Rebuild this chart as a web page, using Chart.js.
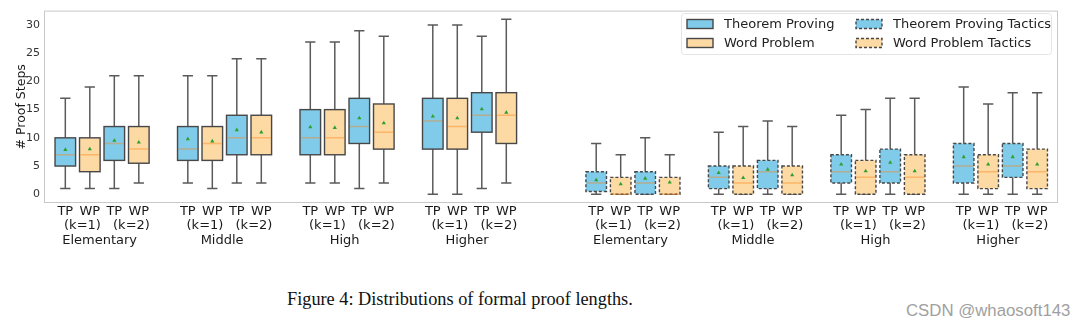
<!DOCTYPE html>
<html>
<head>
<meta charset="utf-8">
<script src="https://cdn.jsdelivr.net/npm/chart.js@4.4.1/dist/chart.umd.min.js"></script>
<style>
  html, body { margin: 0; padding: 0; background: #fff; }
  body { width: 1080px; height: 327px; position: relative; overflow: hidden; }
  #wrap { position: absolute; left: 0; top: 0; width: 1080px; height: 260px; }
  #caption { position: absolute; left: 287px; top: 289px; font-family: 'Liberation Serif', serif; font-size: 18.3px; color: #111; white-space: nowrap; }
  #mark { position: absolute; left: 906px; top: 301px; font-family: 'Liberation Sans', sans-serif; font-size: 16.8px; color: #a0a0a0; white-space: nowrap; }
</style>
</head>
<body>
<div id="wrap"><canvas id="chartCanvas" width="1080" height="260"></canvas></div>
<div id="caption">Figure 4: Distributions of formal proof lengths.</div>
<div id="mark">CSDN @whaosoft143</div>
<script>
// Categories and tick labels
const groupNames = ['Elementary', 'Middle', 'High', 'Higher'];
const pairLabels = ['(k=1)', '(k=2)'];
const boxNames = ['TP', 'WP', 'TP', 'WP'];
const yTickValues = [0, 5, 10, 15, 20, 25, 30];

// Box stats, order: Elementary k=1, k=2, Middle k=1, k=2, High k=1, k=2, Higher k=1, k=2
const tpLow    = [1, 1, 2, 2, 2, 1, 0, 1];
const tpQ1     = [5, 6, 6, 7, 7, 9, 8, 11];
const tpMedian = [7, 9, 8, 10, 10, 12, 13, 14];
const tpQ3     = [10, 12, 12, 14, 15, 17, 17, 18];
const tpHigh   = [17, 21, 21, 24, 27, 29, 30, 28];
const tpMean   = [7.9, 9.5, 9.8, 11.4, 11.9, 13.5, 13.8, 15.1];

const wpLow    = [1, 2, 1, 2, 2, 2, 0, 2];
const wpQ1     = [4, 5.5, 6, 7, 7, 8, 8, 9];
const wpMedian = [7, 8, 9, 10, 10, 11, 12, 14];
const wpQ3     = [10, 12, 12, 14, 15, 16, 17, 18];
const wpHigh   = [19, 21, 21, 24, 27, 28, 30, 31];
const wpMean   = [8.0, 9.2, 9.4, 11.0, 11.8, 12.6, 13.5, 14.5];

const tptLow    = [0, 0, 0, 0, 0, 0, 0, 0];
const tptQ1     = [0.5, 0, 1, 1, 2, 2, 2, 3];
const tptMedian = [2, 2, 3, 4, 4, 4, 5, 5];
const tptQ3     = [4, 4, 5, 6, 7, 8, 9, 9];
const tptHigh   = [9, 10, 11, 13, 14, 17, 19, 18];
const tptMean   = [2.5, 2.8, 3.8, 4.4, 5.3, 5.6, 6.6, 6.6];

const wptLow    = [0, 0, 0, 0, 0, 0, 0, 0];
const wptQ1     = [0, 0, 0, 0, 0, 0, 1, 1];
const wptMedian = [0, 0, 2, 2, 3, 3, 4, 4];
const wptQ3     = [3, 3, 5, 5, 6, 7, 7, 8];
const wptHigh   = [7, 7, 12, 12, 15, 17, 16, 18];
const wptMean   = [1.8, 2.1, 2.9, 3.4, 4.1, 4.1, 5.3, 5.3];

// Layout on the x axis (in box slots)
const leftGroupStart = [0, 5, 10, 15];
const rightGroupStart = [21.67, 26.67, 31.67, 36.67];
const boxWidth = 0.84;

function positions(starts, offset) {
  const out = [];
  starts.forEach(s => { out.push(s + offset, s + offset + 2); });
  return out;
}

const series = [
  { label: 'Theorem Proving', fill: '#80cbe9', dashed: false, pos: positions(leftGroupStart, 0),
    low: tpLow, q1: tpQ1, med: tpMedian, q3: tpQ3, high: tpHigh, mean: tpMean },
  { label: 'Word Problem', fill: '#fdd9a3', dashed: false, pos: positions(leftGroupStart, 1),
    low: wpLow, q1: wpQ1, med: wpMedian, q3: wpQ3, high: wpHigh, mean: wpMean },
  { label: 'Theorem Proving Tactics', fill: '#80cbe9', dashed: true, pos: positions(rightGroupStart, 0),
    low: tptLow, q1: tptQ1, med: tptMedian, q3: tptQ3, high: tptHigh, mean: tptMean },
  { label: 'Word Problem Tactics', fill: '#fdd9a3', dashed: true, pos: positions(rightGroupStart, 1),
    low: wptLow, q1: wptQ1, med: wptMedian, q3: wptQ3, high: wptHigh, mean: wptMean }
];

// x tick positions + multi-line labels (box names, k labels, group names)
const xTickPos = [];
const xTickLabels = [];
leftGroupStart.concat(rightGroupStart).forEach((s, gi) => {
  const name = groupNames[gi % 4];
  xTickPos.push(s);       xTickLabels.push([boxNames[0]]);
  xTickPos.push(s + 0.7); xTickLabels.push(['', pairLabels[0]]);
  xTickPos.push(s + 1);   xTickLabels.push([boxNames[1]]);
  xTickPos.push(s + 1.4); xTickLabels.push(['', '', name]);
  xTickPos.push(s + 2);   xTickLabels.push([boxNames[2]]);
  xTickPos.push(s + 2.7); xTickLabels.push(['', pairLabels[1]]);
  xTickPos.push(s + 3);   xTickLabels.push([boxNames[3]]);
});

const edgeColor = '#474747';
const whiskerColor = '#5a5a5a';
const medianColor = 'rgba(255, 127, 14, 0.4)';
const dashPattern = [3, 2];

// Boxes, whiskers, caps and medians, drawn under the mean markers
const boxPlotPlugin = {
  id: 'boxPlot',
  beforeDatasetsDraw(chart) {
    const { ctx, chartArea, scales: { x, y } } = chart;
    ctx.save();
    ctx.beginPath();
    ctx.rect(chartArea.left, chartArea.top, chartArea.width, chartArea.height);
    ctx.clip();
    series.forEach(s => {
      s.pos.forEach((p, i) => {
        const left = x.getPixelForValue(p - boxWidth / 2);
        const right = x.getPixelForValue(p + boxWidth / 2);
        const cx = x.getPixelForValue(p);
        const capHalf = (right - left) / 4;
        const yLow = y.getPixelForValue(s.low[i]);
        const yQ1 = y.getPixelForValue(s.q1[i]);
        const yMed = y.getPixelForValue(s.med[i]);
        const yQ3 = y.getPixelForValue(s.q3[i]);
        const yHigh = y.getPixelForValue(s.high[i]);

        // whiskers + caps
        ctx.strokeStyle = whiskerColor;
        ctx.lineWidth = 1.5;
        ctx.setLineDash([]);
        ctx.beginPath();
        ctx.moveTo(cx, yQ3); ctx.lineTo(cx, yHigh);
        ctx.moveTo(cx, yQ1); ctx.lineTo(cx, yLow);
        ctx.moveTo(cx - capHalf, yHigh); ctx.lineTo(cx + capHalf, yHigh);
        ctx.moveTo(cx - capHalf, yLow); ctx.lineTo(cx + capHalf, yLow);
        ctx.stroke();

        // box
        ctx.fillStyle = s.fill;
        ctx.fillRect(left, yQ3, right - left, yQ1 - yQ3);
        ctx.strokeStyle = edgeColor;
        ctx.lineWidth = 1.4;
        ctx.setLineDash(s.dashed ? dashPattern : []);
        ctx.strokeRect(left, yQ3, right - left, yQ1 - yQ3);

        // median
        ctx.setLineDash([]);
        ctx.strokeStyle = medianColor;
        ctx.lineWidth = 1.5;
        ctx.beginPath();
        ctx.moveTo(left + 1, yMed); ctx.lineTo(right - 1, yMed);
        ctx.stroke();
      });
    });
    ctx.restore();

    // axes frame
    ctx.save();
    ctx.strokeStyle = '#c8c8c8';
    ctx.lineWidth = 1;
    ctx.strokeRect(chartArea.left + 0.5, chartArea.top + 0.5, chartArea.width - 1, chartArea.height - 1);
    ctx.restore();
  },
  afterDraw(chart) {
    // legend in the upper right corner, two columns
    const { ctx } = chart;
    ctx.save();
    ctx.fillStyle = 'rgba(255,255,255,0.85)';
    ctx.strokeStyle = '#e4e4e4';
    ctx.lineWidth = 1;
    ctx.beginPath();
    ctx.roundRect(681.5, 13.5, 370, 41, 3);
    ctx.fill();
    ctx.stroke();
    const cols = [687, 856];
    const rows = [24, 43];
    ctx.font = '13px "DejaVu Sans"';
    ctx.textBaseline = 'middle';
    series.forEach((s, k) => {
      const col = cols[Math.floor(k / 2)];
      const row = rows[k % 2];
      ctx.fillStyle = s.fill;
      ctx.fillRect(col, row - 4.5, 26, 9);
      ctx.strokeStyle = edgeColor;
      ctx.lineWidth = 1.4;
      ctx.setLineDash(s.dashed ? dashPattern : []);
      ctx.strokeRect(col, row - 4.5, 26, 9);
      ctx.setLineDash([]);
      ctx.fillStyle = '#222';
      ctx.fillText(s.label, col + 37, row + 1);
    });
    ctx.restore();
  }
};

const datasets = series.map(s => ({
  label: s.label,
  data: s.pos.map((p, i) => ({ x: p, y: s.mean[i] })),
  pointStyle: 'triangle',
  radius: 2.4,
  backgroundColor: '#2ca02c',
  borderColor: '#2ca02c',
  borderWidth: 0
}));

new Chart(document.getElementById('chartCanvas'), {
  type: 'scatter',
  data: { datasets },
  plugins: [boxPlotPlugin],
  options: {
    responsive: false,
    animation: false,
    events: [],
    layout: { padding: { top: 7, right: 22, left: 0, bottom: 0 } },
    plugins: { legend: { display: false }, tooltip: { enabled: false } },
    scales: {
      x: {
        type: 'linear',
        min: -0.87,
        max: 40.52,
        grid: { display: false, drawTicks: false },
        border: { display: false },
        afterBuildTicks: scale => { scale.ticks = xTickPos.map(v => ({ value: v })); },
        afterFit: scale => { scale.height = 57; },
        ticks: {
          autoSkip: false,
          maxRotation: 0,
          minRotation: 0,
          padding: 1,
          color: '#1a1a1a',
          font: { family: 'DejaVu Sans', size: 13, lineHeight: 1.13 },
          callback: (v, i) => xTickLabels[i]
        }
      },
      y: {
        min: -1.55,
        max: 32.55,
        grid: { display: false, drawTicks: false },
        border: { display: false },
        afterBuildTicks: scale => { scale.ticks = yTickValues.map(v => ({ value: v })); },
        afterFit: scale => { scale.width = 44; },
        ticks: {
          padding: 4,
          color: '#333',
          font: { family: 'DejaVu Sans', size: 11 }
        },
        title: {
          display: true,
          text: '# Proof Steps',
          color: '#1a1a1a',
          padding: { top: 14, bottom: 0 },
          font: { family: 'DejaVu Sans', size: 12.5 }
        }
      }
    }
  }
});
</script>
</body>
</html>
